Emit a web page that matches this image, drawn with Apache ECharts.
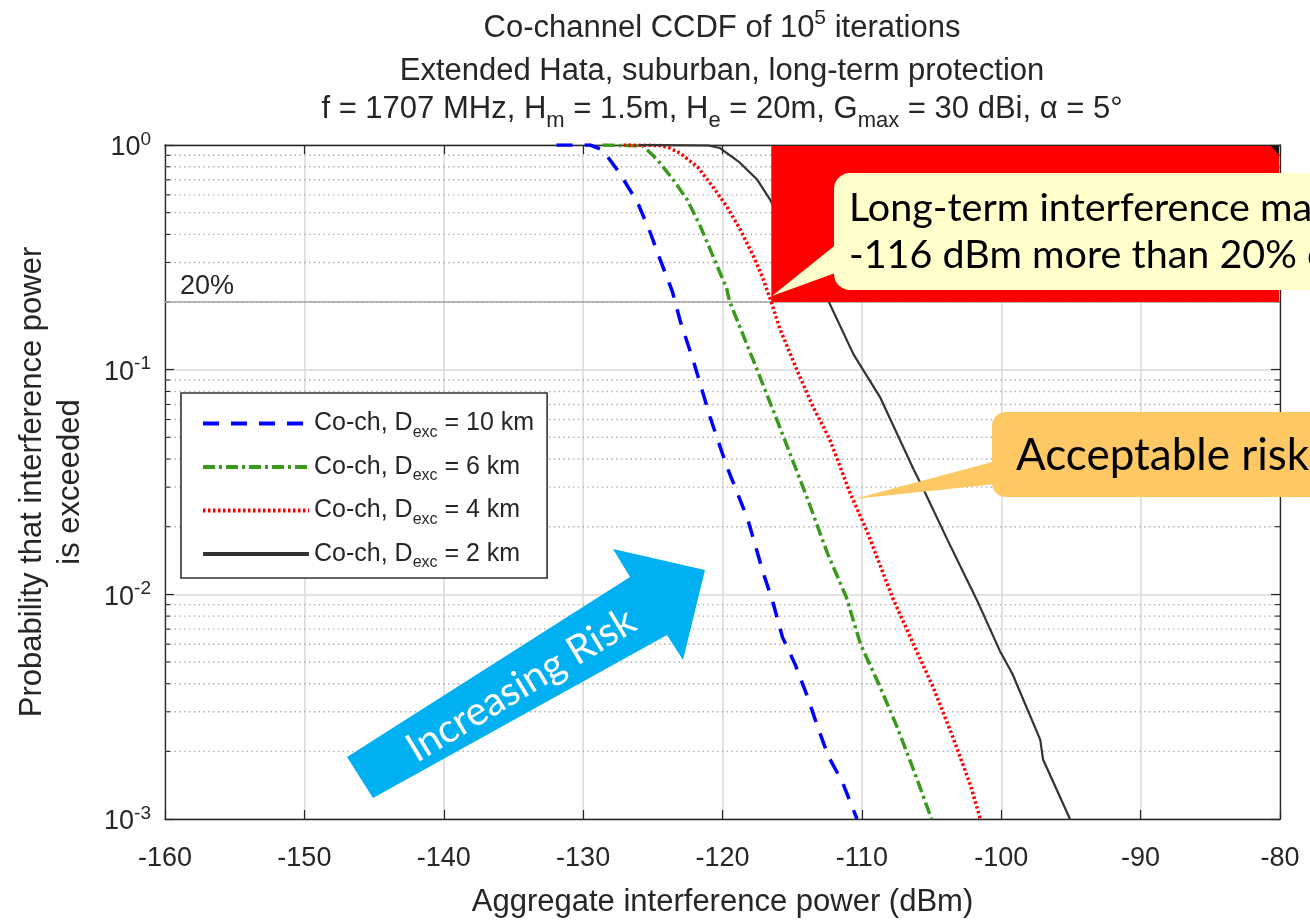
<!DOCTYPE html>
<html>
<head>
<meta charset="utf-8">
<script src="https://cdn.jsdelivr.net/npm/echarts@6/dist/echarts.min.js"></script>
<style>
  html, body { margin: 0; padding: 0; background: #fff; }
  #chart { width: 1310px; height: 923px; }
</style>
</head>
<body>
<div id="chart"></div>
<script>
// CCDF curves: [aggregate interference power (dBm), probability that it is exceeded]
const ccdf10km = [
  [-131.9, 1.0], [-129.5, 1.0], [-128.6, 0.95], [-127.4, 0.753], [-126.1, 0.556],
  [-125.2, 0.41], [-124.5, 0.312], [-123.6, 0.223], [-123.0, 0.162], [-122.1, 0.110],
  [-120.9, 0.0617], [-119.7, 0.0372], [-118.2, 0.0217], [-117.1, 0.0126], [-116.4, 0.0093],
  [-115.7, 0.00645], [-114.8, 0.0049], [-113.9, 0.0035], [-113.2, 0.0026], [-112.4, 0.0019],
  [-111.4, 0.00146], [-110.35, 0.001]
];
const ccdf6km = [
  [-128.6, 1.0], [-125.7, 0.99], [-125.0, 0.90], [-124.5, 0.834], [-123.55, 0.702],
  [-122.55, 0.573], [-121.6, 0.436], [-120.7, 0.322], [-119.7, 0.230], [-119.5, 0.202],
  [-117.5, 0.0993], [-115.9, 0.0557], [-113.9, 0.0266], [-112.5, 0.0154], [-111.1, 0.00966],
  [-110.1, 0.0060], [-108.7, 0.00388], [-107.5, 0.00259], [-106.3, 0.00166], [-105.0, 0.001]
];
const ccdf4km = [
  [-127.1, 1.0], [-124.5, 0.995], [-123.8, 0.97], [-123.05, 0.92], [-121.8, 0.80],
  [-120.7, 0.653], [-119.7, 0.533], [-118.75, 0.423], [-117.8, 0.322], [-117.1, 0.255],
  [-116.5, 0.2], [-115.9, 0.153], [-114.65, 0.0993], [-113.5, 0.0683], [-112.3, 0.0489],
  [-110.85, 0.0283], [-109.6, 0.0189], [-107.8, 0.00966], [-106.3, 0.0060], [-104.9, 0.00388],
  [-103.5, 0.00234], [-102.2, 0.00141], [-101.5, 0.001]
];
const ccdf2km = [
  [-126.0, 1.0], [-121.0, 0.995], [-120.2, 0.97], [-118.75, 0.834], [-117.5, 0.70],
  [-116.6, 0.573], [-115.5, 0.423], [-114.4, 0.322], [-113.4, 0.255], [-112.4, 0.202],
  [-110.6, 0.117], [-108.7, 0.0755], [-106.3, 0.0361], [-105.6, 0.0295], [-103.9, 0.0177],
  [-101.7, 0.0093], [-100.1, 0.0056], [-99.2, 0.00443], [-97.2, 0.00225], [-97.0, 0.00184],
  [-95.07, 0.001]
];

// Exclusion distances (km), one per curve
const exclusionKm = [10, 6, 4, 2];
const seriesNames = exclusionKm.map(d => 'Co-ch, Dexc = ' + d + ' km');

// Axis ranges
const xMin = -160, xMax = -80, xStep = 10;
const yMin = 0.001, yMax = 1;
const minorProbTicks = [
  0.002, 0.003, 0.004, 0.005, 0.006, 0.007, 0.008, 0.009,
  0.02, 0.03, 0.04, 0.05, 0.06, 0.07, 0.08, 0.09,
  0.2, 0.3, 0.4, 0.5, 0.6, 0.7, 0.8, 0.9
];

// 20% protection threshold and the shaded excess-risk zone [x0, y0, x1, y1]
const thresholdProb = 0.2;
const thresholdLabel = '20%';
const riskZone = [-116.5, 0.2, -80, 1];

const MAT_FONT = 'Liberation Sans, Arial, Helvetica, sans-serif';
const NOTE_FONT = 'Lato, Carlito, sans-serif';
const INK = '#262626';
const TOP_Z = 50;

const chart = echarts.init(document.getElementById('chart'), null, { renderer: 'canvas' });

const titleRich = {
  a: { fontSize: 31, lineHeight: 40, fontFamily: MAT_FONT, fontWeight: 'normal', color: INK },
  p: { fontSize: 21, lineHeight: 20, fontFamily: MAT_FONT, fontWeight: 'normal', color: INK, verticalAlign: 'top' },
  b: { fontSize: 22, lineHeight: 18, fontFamily: MAT_FONT, fontWeight: 'normal', color: INK, verticalAlign: 'bottom' }
};
const titleRich3 = Object.assign({}, titleRich, { a: Object.assign({}, titleRich.a, { lineHeight: 46 }) });

function frameAxisBase() {
  return {
    axisLine: { show: true, onZero: false, lineStyle: { color: INK, width: 1.3 } },
    axisTick: { show: true, inside: true, length: 9, lineStyle: { color: INK, width: 1.2 } }
  };
}

// Give every element of a graphic tree the same stacking level
function onTop(el) {
  el.z = TOP_Z;
  if (el.children) el.children.forEach(onTop);
  return el;
}

const option = {
  animation: false,
  backgroundColor: '#fff',
  title: [
    {
      text: '{a|Co-channel CCDF of 10}{p|5}{a| iterations}',
      left: 722, top: 8, textAlign: 'center', padding: 0,
      textStyle: { fontWeight: 'normal', rich: titleRich }
    },
    {
      text: '{a|Extended Hata, suburban, long-term protection}',
      left: 722, top: 51, textAlign: 'center', padding: 0,
      textStyle: { fontWeight: 'normal', rich: titleRich }
    },
    {
      text: '{a|f = 1707 MHz, H}{b|m}{a| = 1.5m, H}{b|e}{a| = 20m, G}{b|max}{a| = 30 dBi, α = 5°}',
      left: 722, top: 86, textAlign: 'center', padding: 0,
      textStyle: { fontWeight: 'normal', rich: titleRich3 }
    }
  ],
  grid: { left: 165, right: 30, top: 145, bottom: 96, containLabel: false },
  legend: {
    data: seriesNames,
    orient: 'vertical',
    left: 181, top: 393,
    padding: [18, 13, 7, 20],
    itemWidth: 106, itemHeight: 14, itemGap: 14,
    backgroundColor: '#fff',
    borderColor: '#333', borderWidth: 1.6, borderRadius: 0,
    itemStyle: { opacity: 0 },
    lineStyle: { width: 4 },
    formatter: name => '{t|' + name.replace('Dexc', 'D}{s|exc}{t|') + '}',
    textStyle: {
      color: INK,
      rich: {
        t: { fontSize: 25, lineHeight: 34, fontFamily: MAT_FONT, color: INK },
        s: { fontSize: 16, lineHeight: 16, fontFamily: MAT_FONT, color: INK, verticalAlign: 'bottom' }
      }
    }
  },
  xAxis: [
    Object.assign(frameAxisBase(), {
      type: 'value', min: xMin, max: xMax, interval: xStep, position: 'bottom',
      name: 'Aggregate interference power (dBm)', nameLocation: 'middle', nameGap: 68,
      nameTextStyle: { fontSize: 31, fontFamily: MAT_FONT, color: INK },
      axisLabel: { fontSize: 27, fontFamily: MAT_FONT, color: INK, margin: 26 },
      splitLine: { show: true, lineStyle: { color: '#d9d9d9', width: 1.5 } }
    }),
    Object.assign(frameAxisBase(), {
      type: 'value', min: xMin, max: xMax, interval: xStep, position: 'top',
      axisLabel: { show: false }, splitLine: { show: false }
    })
  ],
  yAxis: [
    Object.assign(frameAxisBase(), {
      type: 'log', logBase: 10, min: yMin, max: yMax, position: 'left',
      name: 'Probability that interference power\nis exceeded',
      nameLocation: 'middle', nameGap: 76, nameRotate: 90,
      nameTextStyle: { fontSize: 31, lineHeight: 38, fontFamily: MAT_FONT, color: INK, align: 'center' },
      axisLabel: {
        margin: 14,
        formatter: v => '{b|10}{p|' + Math.round(Math.log10(v)) + '}',
        rich: {
          b: { fontSize: 27, lineHeight: 30, fontFamily: MAT_FONT, color: INK, padding: [6, 0, 0, 0] },
          p: { fontSize: 19, lineHeight: 16, fontFamily: MAT_FONT, color: INK, verticalAlign: 'top' }
        }
      },
      splitLine: { show: true, lineStyle: { color: '#d9d9d9', width: 1.5 } }
    }),
    Object.assign(frameAxisBase(), {
      type: 'log', logBase: 10, min: yMin, max: yMax, position: 'right',
      axisLabel: { show: false }, splitLine: { show: false }
    })
  ],
  series: [
    // dotted minor grid + minor ticks on both vertical frame edges
    {
      type: 'custom', name: 'minor-grid', silent: true, z: 1,
      xAxisIndex: 0, yAxisIndex: 0,
      data: minorProbTicks.map(v => [xMin, v]),
      renderItem: (params, api) => {
        const v = api.value(1);
        const a = api.coord([xMin, v]);
        const b = api.coord([xMax, v]);
        return {
          type: 'group',
          children: [
            { type: 'line', shape: { x1: a[0], y1: a[1], x2: b[0], y2: b[1] },
              style: { stroke: '#aaaaaa', lineWidth: 1.4, lineDash: [1.4, 3.4] } },
            { type: 'line', shape: { x1: a[0], y1: a[1], x2: a[0] + 5, y2: a[1] },
              style: { stroke: INK, lineWidth: 1.1 } },
            { type: 'line', shape: { x1: b[0] - 5, y1: b[1], x2: b[0], y2: b[1] },
              style: { stroke: INK, lineWidth: 1.1 } }
          ]
        };
      }
    },
    // 20% protection threshold
    {
      type: 'custom', name: 'threshold', silent: true, z: 1.5,
      xAxisIndex: 0, yAxisIndex: 0,
      data: [[xMin, thresholdProb]],
      renderItem: (params, api) => {
        const a = api.coord([xMin, api.value(1)]);
        const b = api.coord([xMax, api.value(1)]);
        return {
          type: 'group',
          children: [
            { type: 'line', shape: { x1: a[0], y1: a[1], x2: b[0], y2: b[1] },
              style: { stroke: '#a3a3a3', lineWidth: 1.6 } },
            { type: 'text', x: a[0] + 15, y: a[1] - 2,
              style: { text: thresholdLabel, font: '27px ' + MAT_FONT, fill: INK,
                       textAlign: 'left', textVerticalAlign: 'bottom' } }
          ]
        };
      }
    },
    {
      type: 'line', name: seriesNames[0], data: ccdf10km, showSymbol: false, symbol: 'none', z: 2,
      lineStyle: { color: '#0000ff', width: 3.5, type: [16, 12] }, itemStyle: { color: '#0000ff' }
    },
    {
      type: 'line', name: seriesNames[1], data: ccdf6km, showSymbol: false, symbol: 'none', z: 2,
      lineStyle: { color: '#3a9a1c', width: 3.5, type: [12, 4, 3, 4] }, itemStyle: { color: '#3a9a1c' }
    },
    {
      type: 'line', name: seriesNames[2], data: ccdf4km, showSymbol: false, symbol: 'none', z: 2,
      lineStyle: { color: '#ff0000', width: 3.5, type: [2.5, 2.5] }, itemStyle: { color: '#ff0000' }
    },
    {
      type: 'line', name: seriesNames[3], data: ccdf2km, showSymbol: false, symbol: 'none', z: 2,
      lineStyle: { color: '#333333', width: 2.2, type: 'solid' }, itemStyle: { color: '#333333' }
    },
    // highlighted zone above the threshold
    {
      type: 'custom', name: 'risk-zone', silent: true, z: 3,
      xAxisIndex: 0, yAxisIndex: 0,
      data: [riskZone],
      renderItem: (params, api) => {
        const tl = api.coord([api.value(0), api.value(3)]);
        const br = api.coord([api.value(2), api.value(1)]);
        return {
          type: 'group',
          children: [
            { type: 'rect', shape: { x: tl[0], y: tl[1] + 1, width: br[0] - tl[0] - 1, height: br[1] - tl[1] - 1 },
              style: { fill: '#ff0000' } },
            { type: 'polygon', shape: { points: [[br[0] - 9, tl[1] + 1], [br[0] - 1, tl[1] + 1], [br[0] - 1, tl[1] + 10]] },
              style: { fill: '#111' } }
          ]
        };
      }
    }
  ],
  graphic: [
    // long-term margin callout
    onTop({
      type: 'group',
      children: [
        { type: 'rect', shape: { x: 834, y: 173, width: 620, height: 117, r: 16 }, style: { fill: '#ffffcc' } },
        { type: 'polygon', shape: { points: [[838, 243], [838, 272], [772, 296]] }, style: { fill: '#ffffcc' } },
        { type: 'text', x: 849, y: 208,
          style: { text: 'Long-term interference may exceed', font: '39.5px ' + NOTE_FONT, fill: '#000', textVerticalAlign: 'middle' } },
        { type: 'text', x: 849, y: 255,
          style: { text: '-116 dBm more than 20% of the time', font: '39.5px ' + NOTE_FONT, fill: '#000', textVerticalAlign: 'middle' } }
      ]
    }),
    // acceptable risk callout
    onTop({
      type: 'group',
      children: [
        { type: 'rect', shape: { x: 992, y: 412, width: 400, height: 85, r: 14 }, style: { fill: '#fec965' } },
        { type: 'polygon', shape: { points: [[996, 461], [996, 484], [854, 499]] }, style: { fill: '#fec965' } },
        { type: 'text', x: 1016, y: 456,
          style: { text: 'Acceptable risk', font: '44px ' + NOTE_FONT, fill: '#000', textVerticalAlign: 'middle' } }
      ]
    }),
    // increasing-risk arrow
    onTop({
      type: 'group',
      children: [
        { type: 'polygon',
          shape: { points: [[347, 757], [630, 577], [613, 549], [705, 570], [683, 660], [667, 635], [373, 798]] },
          style: { fill: '#00b0f0' } },
        { type: 'text', x: 521, y: 685, rotation: 0.545,
          style: { text: 'Increasing Risk', font: '40px ' + NOTE_FONT, fill: '#fff',
                   textAlign: 'center', textVerticalAlign: 'middle' } }
      ]
    })
  ]
};

chart.setOption(option);
</script>
</body>
</html>
